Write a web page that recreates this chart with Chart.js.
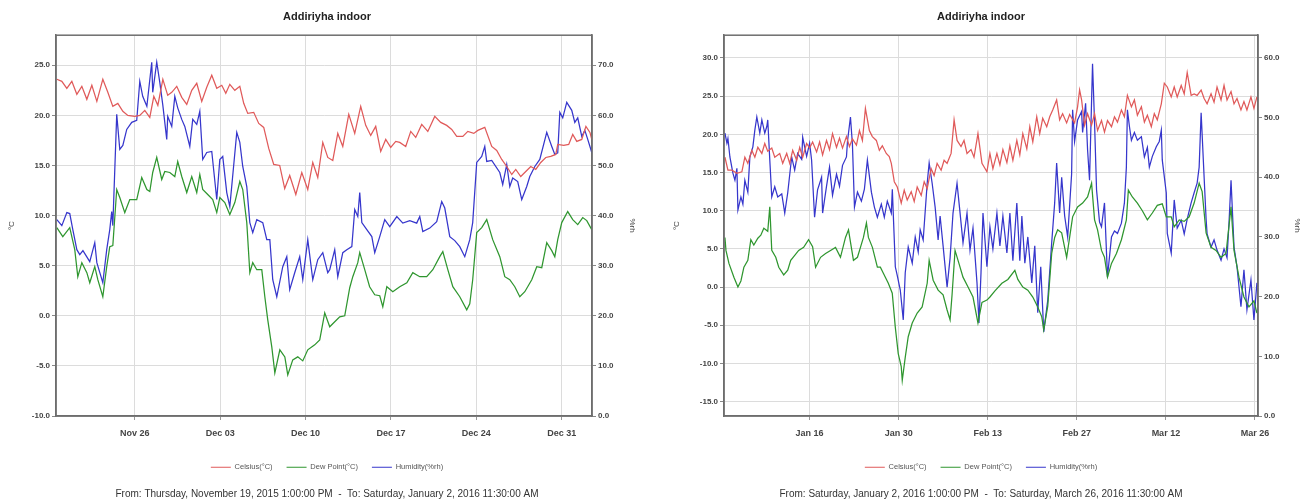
<!DOCTYPE html>
<html>
<head>
<meta charset="utf-8">
<script src="https://cdn.jsdelivr.net/npm/chart.js@4.4.1/dist/chart.umd.min.js"></script>
<style>
  body { margin: 0; background: #fff; }
  .box { position: absolute; top: 0; width: 654px; height: 502px; }
</style>
</head>
<body>
<div class="box" style="left:0"><canvas id="left" width="654" height="502"></canvas></div>
<div class="box" style="left:654px"><canvas id="right" width="654" height="502"></canvas></div>
<script>
// x values are days: left chart from Nov 19 2015 00:00, right chart from Jan 1 2016 00:00
var seriesLabels = ['Celsius(°C)', 'Dew Point(°C)', 'Humidity(%rh)'];
var chartTitle = 'Addiriyha indoor';

var ticksA = [7, 14, 21, 28, 35, 42];
var tickLabelsA = ['Nov 26', 'Dec 03', 'Dec 10', 'Dec 17', 'Dec 24', 'Dec 31'];
var footerA = 'From: Thursday, November 19, 2015 1:00:00 PM  -  To: Saturday, January 2, 2016 11:30:00 AM';

var ticksB = [15, 29, 43, 57, 71, 85];
var tickLabelsB = ['Jan 16', 'Jan 30', 'Feb 13', 'Feb 27', 'Mar 12', 'Mar 26'];
var footerB = 'From: Saturday, January 2, 2016 1:00:00 PM  -  To: Saturday, March 26, 2016 11:30:00 AM';

var celsiusA = [[0.61,23.6],[1.02,23.4],[1.43,22.7],[1.84,23.4],[2.25,22.1],[2.66,22.9],[3.07,21.6],[3.48,23.0],[3.89,21.4],[4.38,23.6],[4.79,22.3],[5.20,20.9],[5.61,21.2],[6.02,20.4],[6.43,20.0],[7.00,19.9],[7.41,20.0],[7.82,20.5],[8.23,19.8],[8.56,21.9],[8.89,21.0],[9.30,23.6],[9.70,22.0],[10.03,22.3],[10.44,22.9],[10.85,21.8],[11.26,21.1],[11.67,22.5],[12.08,23.2],[12.49,21.4],[12.90,22.8],[13.31,24.0],[13.72,22.7],[14.13,23.0],[14.46,22.2],[14.79,23.1],[15.20,22.5],[15.61,22.9],[15.93,21.2],[16.26,20.2],[16.75,20.3],[17.16,19.2],[17.57,18.8],[17.98,16.7],[18.39,15.1],[18.88,15.0],[19.29,12.7],[19.70,14.0],[20.20,12.1],[20.69,14.3],[21.18,12.6],[21.59,15.3],[22.00,13.8],[22.41,17.3],[22.82,15.8],[23.23,15.5],[23.64,18.2],[24.05,16.9],[24.54,20.1],[25.03,18.2],[25.52,20.9],[25.93,19.0],[26.34,18.0],[26.75,18.9],[27.16,16.4],[27.57,17.6],[27.98,16.8],[28.39,17.4],[28.72,17.3],[29.21,16.9],[29.62,18.4],[30.03,17.8],[30.52,19.1],[31.02,18.4],[31.59,19.9],[32.08,19.3],[32.57,19.0],[32.98,18.6],[33.39,17.9],[33.89,17.9],[34.30,18.4],[34.79,18.2],[35.12,18.5],[35.69,18.8],[36.26,16.9],[36.67,16.5],[37.08,15.6],[37.49,14.9],[37.90,14.1],[38.23,14.6],[38.64,13.9],[39.05,14.4],[39.46,14.9],[39.87,14.6],[40.28,15.3],[40.69,15.8],[41.10,15.9],[41.51,16.1],[41.67,17.1],[42.16,17.0],[42.57,17.1],[42.90,18.1],[43.23,17.4],[43.64,17.6],[43.98,18.9],[44.31,18.3],[44.46,17.6]];

var dewA = [[0.61,8.8],[1.10,7.9],[1.67,8.8],[2.08,6.6],[2.33,3.9],[2.66,5.3],[3.07,4.3],[3.31,3.3],[3.72,4.9],[3.97,3.6],[4.38,1.9],[4.70,4.9],[4.95,6.9],[5.20,7.0],[5.52,12.6],[5.77,11.8],[6.18,10.3],[6.59,11.6],[7.16,11.6],[7.57,13.8],[7.99,12.6],[8.23,12.4],[8.47,14.3],[8.80,15.8],[9.21,13.6],[9.46,14.4],[9.87,14.3],[10.28,13.9],[10.52,15.4],[10.85,13.9],[11.26,12.3],[11.67,13.9],[12.08,12.3],[12.33,14.1],[12.57,12.6],[12.98,12.1],[13.39,11.6],[13.72,10.3],[13.97,11.8],[14.38,11.3],[14.79,10.1],[15.20,11.3],[15.61,13.4],[15.85,12.6],[16.18,9.3],[16.43,4.3],[16.67,5.3],[17.00,4.6],[17.41,4.6],[17.66,1.9],[17.90,-0.4],[18.23,-3.1],[18.48,-5.7],[18.89,-3.4],[19.30,-4.1],[19.54,-5.9],[19.95,-4.4],[20.36,-4.1],[20.77,-4.5],[21.18,-3.4],[21.75,-2.9],[22.16,-2.4],[22.57,0.3],[22.98,-1.1],[23.39,-0.6],[23.80,-0.1],[24.21,0.0],[24.62,2.8],[24.87,3.9],[25.28,5.3],[25.44,6.3],[25.85,4.6],[26.25,2.9],[26.67,2.1],[27.08,2.0],[27.33,0.9],[27.66,2.9],[28.15,2.4],[28.72,2.9],[29.30,3.3],[29.79,4.3],[30.36,3.9],[30.93,3.9],[31.43,4.6],[32.00,5.9],[32.25,6.4],[32.66,4.6],[33.07,2.9],[33.64,1.9],[34.21,0.6],[34.46,1.2],[34.70,3.6],[35.03,8.3],[35.44,8.8],[35.85,9.6],[36.34,7.6],[36.92,5.9],[37.33,3.9],[37.74,3.6],[38.15,2.9],[38.56,1.9],[38.97,2.4],[39.54,3.6],[39.95,4.9],[40.36,4.8],[40.77,7.3],[41.18,6.5],[41.43,5.9],[41.67,7.6],[42.00,9.3],[42.49,10.4],[42.90,9.6],[43.31,9.1],[43.72,9.8],[44.05,9.5],[44.46,8.6]];

var humidityA = [[0.61,39.2],[1.02,38.0],[1.43,40.6],[1.67,40.4],[1.92,37.2],[2.25,33.2],[2.49,32.2],[2.75,33.0],[3.31,30.8],[3.72,34.6],[3.89,30.6],[4.38,26.6],[4.70,33.2],[4.95,37.2],[5.11,40.8],[5.20,38.0],[5.52,60.2],[5.77,53.2],[6.02,54.0],[6.34,57.2],[6.75,58.6],[7.16,59.0],[7.41,66.8],[7.65,63.8],[7.99,61.8],[8.39,70.6],[8.47,64.6],[8.80,70.6],[9.05,66.6],[9.30,62.0],[9.62,55.2],[9.70,59.8],[10.03,57.8],[10.28,63.8],[10.52,61.5],[10.85,59.2],[11.10,57.8],[11.51,53.8],[11.75,59.2],[12.08,58.2],[12.33,60.8],[12.57,51.2],[12.90,52.6],[13.31,52.8],[13.72,43.2],[13.97,51.2],[14.21,51.8],[14.54,44.6],[14.79,41.8],[15.03,48.0],[15.36,56.6],[15.61,54.6],[15.85,49.8],[16.18,45.8],[16.43,38.6],[16.67,36.6],[17.00,39.2],[17.49,38.6],[17.82,35.2],[18.07,35.2],[18.31,27.2],[18.64,23.8],[19.13,29.8],[19.46,31.8],[19.70,25.2],[20.11,28.6],[20.52,31.8],[20.77,27.2],[21.18,35.2],[21.59,27.2],[22.00,31.2],[22.41,32.6],[22.82,28.6],[22.98,29.2],[23.39,33.2],[23.64,27.8],[24.05,32.6],[24.38,33.2],[24.79,33.8],[25.03,41.2],[25.28,39.8],[25.44,44.6],[25.61,38.6],[26.02,37.2],[26.43,35.8],[26.67,32.6],[27.08,35.8],[27.49,39.2],[27.90,37.8],[28.48,39.8],[28.97,38.5],[29.54,39.0],[30.11,38.5],[30.36,39.8],[30.61,36.8],[31.18,37.5],[31.75,38.8],[32.16,42.8],[32.41,41.5],[32.82,35.8],[33.23,35.0],[33.64,33.8],[34.05,31.8],[34.46,35.2],[34.70,38.6],[35.03,50.6],[35.44,51.8],[35.69,53.8],[35.85,50.8],[36.26,51.0],[36.92,48.6],[37.16,46.2],[37.49,50.2],[37.74,45.8],[37.98,47.5],[38.39,46.8],[38.72,43.2],[39.13,45.8],[39.38,47.8],[39.79,49.8],[40.20,51.2],[40.77,56.6],[41.18,53.8],[41.43,52.2],[41.67,52.5],[41.84,60.6],[42.08,59.5],[42.41,62.6],[42.82,61.0],[43.07,58.6],[43.31,59.5],[43.64,55.8],[43.89,57.0],[44.13,55.2],[44.46,52.6]];

var celsiusB = [[1.69,17.0],[2.16,15.3],[2.79,15.3],[3.57,14.9],[4.35,15.1],[4.82,17.0],[5.29,16.2],[5.92,17.9],[6.39,17.0],[6.86,18.3],[7.49,17.5],[7.95,18.8],[8.42,17.8],[9.05,18.2],[9.52,17.0],[10.30,17.5],[10.77,16.2],[11.40,17.5],[11.87,16.2],[12.34,17.9],[12.97,16.6],[13.44,18.3],[13.91,17.0],[14.53,18.8],[15.00,18.2],[15.47,19.0],[16.10,17.7],[16.57,19.0],[17.04,17.3],[17.66,19.2],[18.13,18.0],[18.60,20.1],[19.23,18.3],[19.70,19.5],[20.17,18.2],[20.79,19.7],[21.26,18.4],[21.73,19.4],[22.36,18.6],[22.83,20.5],[23.30,19.2],[23.77,23.4],[24.39,20.5],[24.86,19.7],[25.49,19.2],[25.96,17.9],[26.43,18.5],[27.05,17.5],[27.52,17.1],[27.84,16.2],[28.31,13.8],[28.78,13.1],[29.40,11.0],[29.87,12.7],[30.34,11.4],[30.97,12.5],[31.44,11.2],[31.91,13.1],[32.54,12.0],[33.01,13.8],[33.48,12.9],[34.10,15.5],[34.57,14.6],[35.04,16.2],[35.67,15.3],[36.14,16.6],[36.61,16.2],[37.24,17.5],[37.71,21.9],[38.18,19.2],[38.80,18.4],[39.27,19.2],[39.74,17.5],[40.37,18.0],[40.84,17.0],[41.46,20.1],[42.09,16.2],[42.87,15.1],[43.34,17.5],[43.81,15.5],[44.44,17.5],[44.91,16.0],[45.38,18.0],[46.01,16.3],[46.48,18.5],[46.95,16.6],[47.57,19.2],[48.04,17.3],[48.51,20.1],[49.14,18.1],[49.61,21.0],[50.08,19.0],[50.70,22.3],[51.17,20.1],[51.64,22.1],[52.27,21.0],[52.74,22.3],[53.21,23.2],[53.83,24.5],[54.30,21.9],[54.77,22.7],[55.40,21.5],[55.87,22.6],[56.65,21.5],[57.12,23.6],[57.44,25.8],[57.75,24.5],[58.22,21.2],[58.69,22.7],[59.32,21.2],[59.79,22.7],[60.26,20.5],[60.88,21.8],[61.35,20.3],[61.82,21.8],[62.45,21.0],[62.92,22.3],[63.39,21.6],[64.01,23.2],[64.48,22.3],[64.95,25.1],[65.58,23.6],[66.05,24.5],[66.52,22.5],[67.15,23.6],[67.62,21.6],[68.09,22.5],[68.71,21.0],[69.18,22.7],[69.65,21.9],[70.28,24.0],[70.75,26.7],[71.22,26.2],[71.84,24.9],[72.31,26.2],[72.78,24.9],[73.41,26.4],[73.88,25.3],[74.35,28.1],[74.97,25.1],[75.44,25.3],[75.91,25.1],[76.54,25.8],[77.01,24.7],[77.48,24.0],[78.10,25.3],[78.57,24.2],[79.04,26.2],[79.67,24.5],[80.14,26.4],[80.61,24.5],[81.24,25.6],[81.71,24.0],[82.18,24.7],[82.80,23.2],[83.27,24.3],[83.74,23.2],[84.37,24.9],[84.84,23.4],[85.31,24.9]];

var dewB = [[1.69,6.5],[1.85,4.8],[2.32,3.1],[3.10,1.3],[3.73,0.0],[4.20,0.8],[4.67,2.6],[5.29,3.5],[5.76,6.2],[6.23,5.5],[6.86,6.4],[7.33,6.8],[7.80,7.7],[8.42,7.3],[8.74,10.5],[9.05,4.8],[9.68,3.9],[10.15,2.6],[10.93,1.6],[11.56,2.2],[12.03,3.5],[12.50,4.0],[13.28,4.8],[14.06,5.2],[14.84,6.2],[15.47,5.3],[15.94,2.6],[16.72,3.9],[17.51,4.4],[18.29,4.8],[19.07,5.2],[19.85,3.9],[20.64,6.5],[21.11,7.5],[21.89,3.5],[22.52,3.9],[22.99,5.2],[23.46,6.5],[23.93,8.4],[24.24,6.5],[24.87,5.2],[25.65,2.6],[26.12,2.6],[26.59,1.8],[27.37,0.5],[27.99,-0.8],[28.46,-5.2],[28.93,-8.7],[29.40,-10.4],[29.56,-12.2],[30.03,-9.2],[30.50,-6.5],[31.13,-4.7],[31.91,-3.4],[32.69,-2.6],[33.48,0.5],[33.79,3.5],[34.42,0.9],[35.20,-0.4],[35.98,-1.0],[36.61,-3.0],[37.08,-4.3],[37.39,-1.0],[37.86,4.8],[38.33,3.5],[39.11,1.3],[39.90,0.0],[40.68,-1.3],[41.46,-4.7],[42.09,-2.0],[42.87,-1.7],[43.34,-1.3],[44.13,-0.5],[45.22,0.5],[46.16,1.0],[47.26,2.2],[47.73,1.0],[48.51,0.0],[49.30,-0.4],[50.08,-1.3],[50.86,-2.6],[51.49,-3.9],[51.80,-5.6],[52.43,-2.5],[53.05,4.4],[53.52,6.5],[53.99,7.5],[54.62,7.1],[55.40,3.9],[55.87,6.5],[56.34,9.2],[57.12,10.5],[57.91,11.0],[58.69,11.8],[59.32,13.6],[59.79,8.8],[60.26,7.5],[60.88,4.8],[61.35,3.9],[61.82,1.3],[62.45,3.1],[63.23,4.4],[64.01,6.2],[64.79,8.8],[65.10,12.7],[65.73,11.8],[66.52,11.0],[67.30,10.0],[68.09,8.8],[68.87,9.7],[69.65,10.7],[70.43,10.9],[71.06,9.2],[71.84,9.2],[72.31,7.9],[73.10,8.8],[73.88,8.6],[74.66,9.2],[75.44,11.0],[76.23,13.6],[76.70,12.5],[77.32,7.1],[78.10,5.2],[78.88,4.8],[79.67,3.9],[80.45,4.4],[81.24,10.5],[81.71,4.8],[82.49,1.3],[83.27,-1.3],[84.06,-2.6],[84.84,-1.8],[85.31,-3.4]];

var humidityB = [[1.69,47.4],[2.00,45.7],[2.16,46.5],[2.47,43.4],[2.94,40.7],[3.26,39.5],[3.57,41.5],[3.73,34.5],[4.20,36.7],[4.51,35.5],[4.82,39.5],[5.29,37.5],[5.61,43.4],[6.08,45.1],[6.39,47.9],[6.70,50.1],[7.17,47.4],[7.49,49.6],[7.95,47.4],[8.27,48.5],[8.42,49.6],[8.74,42.9],[9.05,36.7],[9.52,38.4],[9.99,36.7],[10.62,37.2],[11.09,34.0],[11.56,37.4],[12.18,43.4],[12.65,41.2],[13.12,44.0],[13.75,43.0],[13.91,46.7],[14.53,43.5],[15.00,45.7],[15.31,42.9],[15.78,33.3],[16.25,37.9],[16.88,40.0],[17.04,34.0],[17.66,38.5],[18.13,41.7],[18.60,37.0],[19.23,40.5],[19.70,38.5],[20.17,42.0],[20.79,43.4],[20.95,46.0],[21.42,50.1],[21.73,45.5],[22.05,35.0],[22.52,37.5],[23.14,36.0],[23.61,38.0],[24.08,42.9],[24.71,37.5],[25.18,35.0],[25.65,33.3],[26.27,35.5],[26.74,33.3],[27.21,36.0],[27.84,34.0],[28.00,38.0],[28.31,29.5],[28.47,25.0],[28.78,23.5],[29.25,21.1],[29.72,16.1],[30.03,24.0],[30.50,28.3],[31.13,25.6],[31.60,30.0],[32.07,27.5],[32.38,31.2],[32.85,29.5],[33.48,39.0],[33.79,42.4],[34.26,39.0],[34.73,35.0],[35.20,29.5],[35.51,33.5],[35.98,28.5],[36.61,21.6],[37.08,26.5],[37.54,34.0],[38.17,39.0],[38.65,34.0],[39.11,29.0],[39.74,34.0],[40.21,27.8],[40.68,31.5],[41.31,22.3],[41.62,15.6],[41.94,24.0],[42.25,34.0],[42.87,25.0],[43.34,31.7],[43.81,28.0],[44.44,34.0],[44.91,28.5],[45.38,33.5],[46.01,27.3],[46.48,34.0],[46.95,26.0],[47.57,35.7],[48.04,26.0],[48.36,33.5],[48.83,25.6],[49.30,30.0],[49.92,22.3],[50.39,28.5],[50.86,17.3],[51.33,25.0],[51.80,14.1],[52.43,19.4],[53.05,29.0],[53.52,35.7],[53.83,42.4],[54.30,34.0],[54.62,40.0],[55.09,33.5],[55.56,30.0],[56.18,40.5],[56.34,51.3],[56.65,46.0],[57.12,49.6],[57.75,51.0],[57.91,47.5],[58.38,52.4],[58.69,44.6],[59.00,39.5],[59.47,59.0],[59.79,49.1],[60.10,37.9],[60.57,32.5],[60.88,31.7],[61.35,35.7],[61.82,23.3],[62.45,30.0],[62.92,31.0],[63.39,30.6],[64.01,32.3],[64.48,35.7],[64.79,41.7],[64.95,51.3],[65.27,48.5],[65.58,46.2],[66.05,47.5],[66.52,46.2],[67.15,46.8],[67.62,43.4],[68.09,45.0],[68.40,41.7],[68.87,43.5],[69.49,45.1],[69.96,46.0],[70.28,47.9],[70.43,42.9],[71.06,37.4],[71.22,30.6],[71.84,27.3],[72.31,36.2],[72.78,31.5],[73.41,32.8],[73.88,30.5],[74.35,33.0],[74.97,35.7],[75.44,37.4],[75.91,39.0],[76.23,41.7],[76.54,50.8],[77.01,40.0],[77.32,33.0],[77.48,30.5],[78.10,28.3],[78.57,29.5],[79.04,27.8],[79.67,26.1],[80.14,28.0],[80.61,26.5],[80.92,32.3],[81.24,39.5],[81.71,28.3],[82.18,25.0],[82.80,18.3],[83.27,24.5],[83.74,17.8],[84.37,22.8],[84.84,16.1],[85.31,22.3]];

Chart.defaults.font.family = "'Liberation Sans', Arial, sans-serif";
Chart.defaults.color = '#444';

// dark frame round the plot area
var frame = {
  id: 'frame',
  afterDatasetsDraw: function(chart) {
    var a = chart.chartArea, ctx = chart.ctx;
    ctx.save();
    ctx.strokeStyle = '#6e6e6e';
    ctx.lineWidth = 1.5;
    ctx.strokeRect(a.left, a.top, a.right - a.left, a.bottom - a.top);
    ctx.restore();
  }
};

function makeChart(id, o) {
  var tickFont = {size: 8, weight: 'bold'};
  return new Chart(id, {
    type: 'line',
    data: {
      datasets: [
        {label: seriesLabels[0], data: o.celsius, borderColor: '#e05a5a', backgroundColor: '#e05a5a', yAxisID: 'y'},
        {label: seriesLabels[1], data: o.dew, borderColor: '#2f962f', backgroundColor: '#2f962f', yAxisID: 'y'},
        {label: seriesLabels[2], data: o.hum, borderColor: '#3636cc', backgroundColor: '#3636cc', yAxisID: 'y1'}
      ]
    },
    options: {
      responsive: false,
      animation: false,
      devicePixelRatio: 1,
      layout: {padding: 0},
      elements: {line: {borderWidth: 1.25, tension: 0}, point: {radius: 0}},
      scales: {
        x: {
          type: 'linear', min: o.xMin, max: o.xMax,
          afterBuildTicks: function(s) { s.ticks = o.ticks.map(function(v) { return {value: v}; }); },
          afterFit: function(s) { s.height = 33.5; },
          grid: {color: '#dcdcdc', tickLength: 4, tickColor: '#999'},
          border: {color: '#6e6e6e', width: 1.5},
          ticks: {autoSkip: false, maxRotation: 0, padding: 8, color: '#444', font: {size: 9, weight: 'bold'},
            callback: function(v, i) { return o.tickLabels[i]; }}
        },
        y: {
          position: 'left', min: o.tMin, max: o.tMax,
          afterFit: function(s) { s.width = o.wL; },
          grid: {color: '#dcdcdc', tickLength: 4, tickColor: '#888'},
          border: {color: '#6e6e6e', width: 1.5},
          ticks: {stepSize: 5, includeBounds: false, padding: 2, color: '#444', font: tickFont,
            callback: function(v) { return v.toFixed(1); }},
          title: {display: true, text: '°C', color: '#444', font: {size: 8}, padding: {top: o.tPadL, bottom: 0}}
        },
        y1: {
          position: 'right', min: 0, max: o.hMax,
          afterFit: function(s) { s.width = o.wR; },
          grid: {drawOnChartArea: false, tickLength: 4, tickColor: '#888'},
          border: {color: '#6e6e6e', width: 1.5},
          ticks: {stepSize: 10, includeBounds: false, padding: 2, color: '#444', font: tickFont,
            callback: function(v) { return v.toFixed(1); }},
          title: {display: true, text: '%rh', color: '#444', font: {size: 8}, padding: {top: o.tPadR, bottom: 0}}
        }
      },
      plugins: {
        title: {display: true, text: chartTitle, color: '#222', font: {size: 11, weight: 'bold'}, padding: {top: 10, bottom: 12}},
        subtitle: {display: true, position: 'bottom', text: o.footer, color: '#333', font: {size: 10}, padding: {top: 7, bottom: 2}},
        legend: {
          position: 'bottom',
          labels: {usePointStyle: true, pointStyle: 'line', pointStyleWidth: 20, padding: 14, color: '#555', font: {size: 7.5}}
        },
        tooltip: {enabled: false}
      }
    },
    plugins: [frame]
  });
}

makeChart('left', {
  celsius: celsiusA, dew: dewA, hum: humidityA,
  xMin: 0.542, xMax: 44.479, ticks: ticksA, tickLabels: tickLabelsA,
  tMin: -10, tMax: 28, hMax: 76,
  wL: 56, wR: 62, tPadL: 7, tPadR: 17,
  footer: footerA
});

makeChart('right', {
  celsius: celsiusB, dew: dewB, hum: humidityB,
  xMin: 1.542, xMax: 85.479, ticks: ticksB, tickLabels: tickLabelsB,
  tMin: -16.88, tMax: 32.98, hMax: 63.8,
  wL: 70, wR: 50, tPadL: 18, tPadR: 6,
  footer: footerB
});
</script>
</body>
</html>
